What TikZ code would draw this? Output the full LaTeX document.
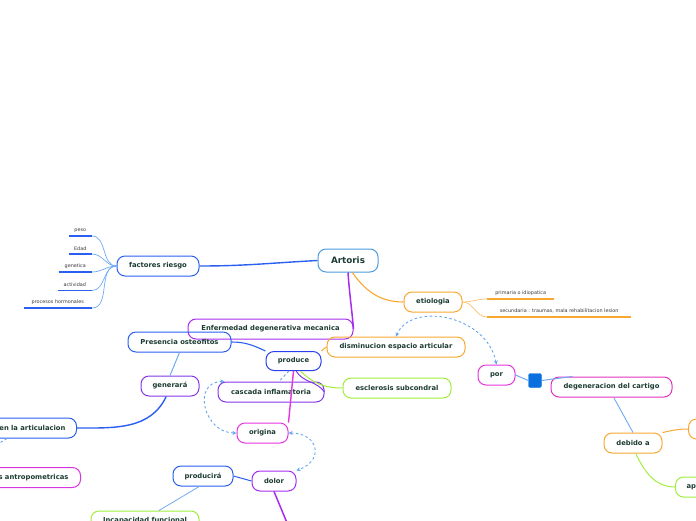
\documentclass[tikz,border=0pt]{standalone}
\usepackage{fontspec}
\setmainfont{DejaVu Sans}
\usetikzlibrary{arrows.meta,calc}
\definecolor{txt}{HTML}{1C3B33}
\definecolor{leaftxt}{HTML}{3A3A3A}
\definecolor{cblue}{HTML}{2A5FF0}
\definecolor{cdblue}{HTML}{2A3FF0}
\definecolor{clight}{HTML}{4B9BE0}
\definecolor{clink}{HTML}{6FAAF2}
\definecolor{corange}{HTML}{F8A830}
\definecolor{cpurple}{HTML}{A62CF0}
\definecolor{cviolet}{HTML}{8436E8}
\definecolor{cmagenta}{HTML}{E435DE}
\definecolor{cpink}{HTML}{E430BE}
\definecolor{cgreen}{HTML}{A0EE3C}
\definecolor{cdash}{HTML}{62A6EE}
\definecolor{csquare}{HTML}{0A70E0}
\begin{document}
\begin{tikzpicture}[x=1pt,y=-1pt,
  box/.style={draw, rounded corners=8pt, line width=1pt, font=\bfseries\fontsize{6.8}{8}\selectfont, text=txt, minimum height=20pt, inner sep=0pt},
  leaf/.style={font=\fontsize{4.9}{6}\selectfont, text=leaftxt, inner sep=0pt, minimum height=11pt},
  lconn/.style={draw=clink, line width=0.7pt},
  conn/.style={line width=1.1pt},
  rel/.style={draw=cdash, line width=0.9pt, dash pattern=on 2.5pt off 2.5pt, {Stealth[length=4pt,width=4pt]}-{Stealth[length=4pt,width=4pt]}}]
\useasboundingbox (0,0) rectangle (696,520);
\clip (0,0) rectangle (696,520);

% main nodes
\node[box, draw=clight, minimum width=60pt, minimum height=23pt, font=\bfseries\fontsize{8.8}{10}\selectfont] (art) at (348,260.5) {Artoris};
\node[box, draw=cblue, minimum width=82pt] (fr) at (158,266) {factores riesgo};
\node[box, draw=corange, minimum width=58pt] (et) at (433,302) {etiologia};
\node[box, draw=cpurple, minimum width=165pt] (enf) at (270.5,329) {Enfermedad degenerativa mecanica};
\node[box, draw=cblue, minimum width=103pt] (pres) at (179.5,342) {Presencia osteofitos};
\node[box, draw=corange, minimum width=138pt] (dis) at (396,347) {disminucion espacio articular};
\node[box, draw=cdblue, minimum width=55pt, minimum height=19pt] (prod) at (293.5,361) {produce};
\node[box, draw=cviolet, minimum width=106pt] (cas) at (271,392) {cascada inflamatoria};
\node[box, draw=cgreen, minimum width=108pt] (esc) at (397,388) {esclerosis subcondral};
\node[box, draw=cviolet, minimum width=58pt] (gen) at (170,386) {generará};
\node[box, draw=cblue, anchor=east, text width=80pt, align=right, inner xsep=11pt] (enl) at (77,428) {en la articulacion};
\node[box, draw=cmagenta!85!cviolet, anchor=east, text width=80pt, align=right, inner xsep=12pt] (ant) at (81,477.5) {s antropometricas};
\node[box, draw=cmagenta, minimum width=51pt] (ori) at (262.5,433) {origina};
\node[box, draw=cpurple, minimum width=44pt] (dol) at (274,481) {dolor};
\node[box, draw=cblue, minimum width=60pt] (prd) at (203,476) {producirá};
\node[box, draw=cgreen, minimum width=108pt] (inc) at (145,521) {Incapacidad funcional};
\node[box, draw=cmagenta, minimum width=37pt] (por) at (496.5,375) {por};
\node[draw=csquare, fill=csquare, rounded corners=2pt, minimum width=13pt, minimum height=14pt, inner sep=0pt] (sq) at (535,380.5) {};
\node[box, draw=cpink, minimum width=121pt] (deg) at (611.5,387) {degeneracion del cartigo};
\node[box, draw=corange, minimum width=58pt] (deb) at (633,443) {debido a};
\node[box, draw=corange, anchor=west, minimum width=40pt] (or1) at (688,429) {};
\node[box, draw=cgreen, anchor=west, text width=30pt, align=left, inner xsep=11pt] (ap) at (675,487) {ap};
\coordinate (dend) at (290,530);
\coordinate (enlrel) at (-2,444);

% leaves of factores riesgo
\node[leaf, anchor=south east, minimum width=23pt] (l1) at (92,236) {peso};
\node[leaf, anchor=south east, minimum width=23pt] (l2) at (92,254) {Edad};
\node[leaf, anchor=south east, minimum width=33pt] (l3) at (92,272) {genetica};
\node[leaf, anchor=south east, minimum width=34pt] (l4) at (92,290.5) {actividad};
\node[leaf, anchor=south east, minimum width=68pt] (l5) at (92,308) {procesos hormonales};
\foreach \l in {l1,l2,l3,l4,l5}{
  \draw[cblue, line width=1.3pt] (\l.south west) -- (\l.south east);
  \draw[lconn] (\l.south east) to[out=0,in=180] (fr.west);
}
% leaves of etiologia
\node[leaf, anchor=south west, minimum width=67pt] (o1) at (487,299) {primaria o idiopatica};
\node[leaf, anchor=south west, minimum width=144pt] (o2) at (487,317) {secundaria : traumas, mala rehabilitacion lesion};
\foreach \l in {o1,o2}{
  \draw[corange, line width=1.5pt] (\l.south west) -- (\l.south east);
  \draw[draw=corange!70, line width=0.7pt] (et.east) to[out=0,in=180] (\l.south west);
}

% connectors
\draw[cblue, line width=1.4pt] (fr.east) to[out=0,in=183] (art.west);
\draw[corange, conn] (art.290) to[out=-55,in=180] (et.west);
\draw[cpurple, line width=1.5pt] (art.south) to[out=-86,in=95] (enf.east);
\draw[cblue, conn] (pres.east) to[out=0,in=155] (prod.north west);
\draw[corange, line width=1pt] (prod.north east) to[out=15,in=180] (dis.west);
\draw[cgreen, line width=1pt] (prod.305) to[out=-45,in=180] (esc.west);
\draw[cviolet, line width=1pt] (prod.285) to[out=-60,in=125] (cas.east);
\draw[cmagenta, line width=1.4pt] (prod.south) -- (ori.north east);
\draw[clink, line width=1pt] (pres.south) -- (gen.north);
\draw[cblue, line width=1.4pt] (gen.250) to[out=-115,in=0] (enl.east);
\draw[cblue, line width=1pt] (prd.east) -- (dol.west);
\draw[clink, line width=0.8pt] (prd.250) -- ($(inc.north)+(14,0)$);
\draw[cpurple, line width=1.5pt] (dol.south) -- (dend);
\draw[clink, line width=1pt] (por.east) -- (sq.west);
\draw[clink, line width=1pt] (sq.east) -- (deg.165);
\draw[clink, line width=0.9pt] (deg.-78) -- (deb.north);
\draw[corange, line width=1pt] (deb.north east) to[out=12,in=180] (or1.west);
\draw[cgreen, line width=1pt] (deb.-75) to[out=-65,in=180] (ap.west);

% relations (dashed)
\draw[rel] ($(cas.north west)+(7,0)$) to[out=180,in=180,looseness=1.6] (ori.west);
\draw[rel] (ori.east) to[out=0,in=20,looseness=2] (dol.north east);
\draw[rel] (por.north) .. controls +(-10,-50) and +(15,-35) .. (dis.north);
\draw[draw=cdash, line width=0.9pt, dash pattern=on 2.5pt off 2.5pt] (prod.245) -- ($(cas.north)+(8,0)$);
\draw[draw=cdash, line width=0.9pt, dash pattern=on 2.5pt off 2.5pt] ($(enl.south east)+(-70,0)$) -- (enlrel);
\end{tikzpicture}
\end{document}
